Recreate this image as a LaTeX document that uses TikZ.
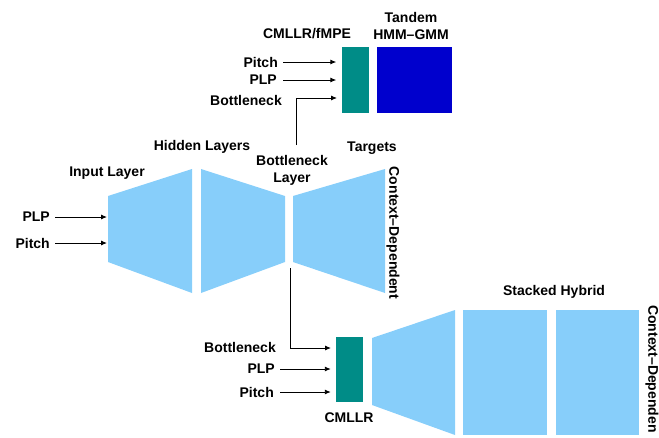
\documentclass[tikz,border=0pt]{standalone}
\usepackage{fontspec}
\setmainfont{Liberation Sans}
\usetikzlibrary{arrows.meta}
\definecolor{layerblue}{RGB}{135,206,250}
\definecolor{cmllrteal}{RGB}{0,140,135}
\definecolor{hmmblue}{RGB}{0,0,205}
\begin{document}
\begin{tikzpicture}[x=1pt,y=-1pt,
  lbl/.style={font=\bfseries\fontsize{14}{17}\selectfont,inner sep=0pt,align=center},
  arr/.style={-{Latex[length=6pt,width=5pt]},line width=0.9pt},
  layer/.style={fill=layerblue},
  xform/.style={fill=cmllrteal,inner sep=0pt,minimum width=27pt}]
\useasboundingbox (0,0) rectangle (659,437);
\coordinate (i1) at (108,196);
\coordinate (i2) at (192,169);
\coordinate (i3) at (192,293);
\coordinate (i4) at (108,262);
\fill[layer] (i1) -- (i2) -- (i3) -- (i4) -- cycle;
\coordinate (h1) at (201,169);
\coordinate (h2) at (285,196);
\coordinate (h3) at (285,262);
\coordinate (h4) at (201,293);
\fill[layer] (h1) -- (h2) -- (h3) -- (h4) -- cycle;
\coordinate (o1) at (293,196);
\coordinate (o2) at (385,169);
\coordinate (o3) at (385,293);
\coordinate (o4) at (293,262);
\fill[layer] (o1) -- (o2) -- (o3) -- (o4) -- cycle;
\coordinate (s1) at (372,338);
\coordinate (s2) at (455,310);
\coordinate (s3) at (455,435);
\coordinate (s4) at (372,405);
\fill[layer] (s1) -- (s2) -- (s3) -- (s4) -- cycle;
\fill[layer] (463,310) rectangle (547,435);
\fill[layer] (556,310) rectangle (639,435);
\node[xform,minimum height=66pt] (fmpe) at (355,80) {};
\node[fill=hmmblue,inner sep=0pt,minimum width=75pt,minimum height=66pt] (tandem) at (414.5,80) {};
\node[xform,minimum height=65pt] (cmllr) at (349.5,369.5) {};
\node[lbl] (inL) at (107,173) {Input Layer};
\node[lbl] (hidL) at (202,147) {Hidden Layers};
\node[lbl] (bnL) at (292,170) {Bottleneck\\Layer};
\node[lbl] (tgtL) at (372,148) {Targets};
\node[lbl,rotate=-90] (cdTop) at (393,233) {Context–Dependent};
\node[lbl] (fmpeL) at (307,34) {CMLLR/fMPE};
\node[lbl] (tandemL) at (411,25.5) {Tandem\\HMM–GMM};
\node[lbl] (stackL) at (554,292) {Stacked Hybrid};
\node[lbl] (cmllrL) at (349,418) {CMLLR};
\node[lbl,rotate=-90,anchor=west] (cdBot) at (652,305) {Context–Dependen};
\node[lbl,anchor=east] (plpIn) at (50,217) {PLP};
\node[lbl,anchor=east] (pitchIn) at (50,243) {Pitch};
\draw[arr,shorten <=5pt,shorten >=1pt] (plpIn.east) -- (plpIn.east -| i1);
\draw[arr,shorten <=5pt,shorten >=1pt] (pitchIn.east) -- (pitchIn.east -| i1);
\node[lbl,anchor=east] (pitchT) at (278,62) {Pitch};
\node[lbl,anchor=east] (plpT) at (277,80) {PLP};
\node[lbl,anchor=east] (bnT) at (282,100) {Bottleneck};
\draw[arr,shorten <=5pt,shorten >=5pt] (pitchT.east) -- (pitchT.east -| fmpe.west);
\draw[arr,shorten <=6pt,shorten >=5pt] (plpT.east) -- (plpT.east -| fmpe.west);
\coordinate (bnTop) at (296,145);
\coordinate (bnTopEnd) at (337,98);
\draw[arr] (bnTop) |- (bnTopEnd);
\node[lbl,anchor=east] (bnB) at (276,347) {Bottleneck};
\node[lbl,anchor=east] (plpB) at (275,369) {PLP};
\node[lbl,anchor=east] (pitchB) at (274,392) {Pitch};
\coordinate (bnBot) at (290,268);
\coordinate (bnBotEnd) at (331,348);
\draw[arr] (bnBot) |- (bnBotEnd);
\draw[arr,shorten <=5pt,shorten >=5pt] (plpB.east) -- (plpB.east -| cmllr.west);
\draw[arr,shorten <=6pt,shorten >=5pt] (pitchB.east) -- (pitchB.east -| cmllr.west);
\end{tikzpicture}
\end{document}
